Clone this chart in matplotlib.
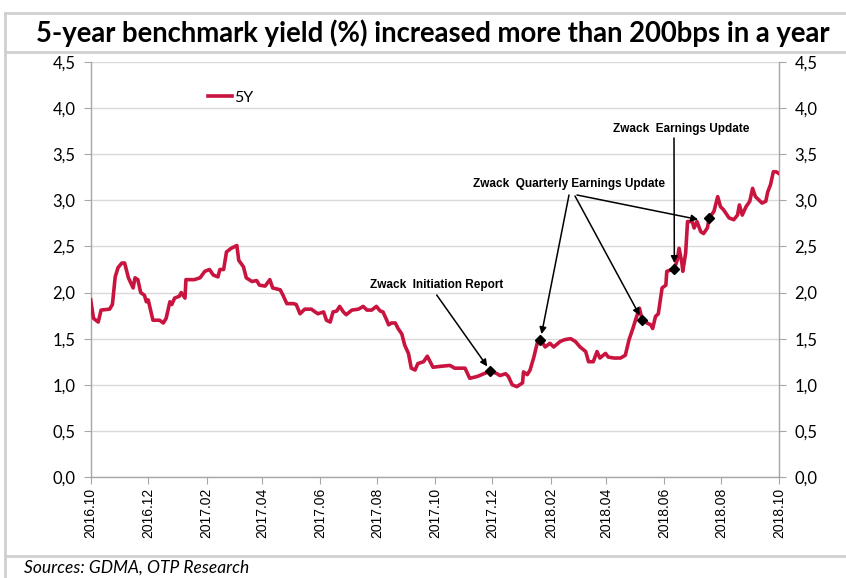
import matplotlib
matplotlib.use("Agg")
import matplotlib.pyplot as plt
import matplotlib.dates as mdates
from matplotlib.lines import Line2D
from matplotlib.ticker import FuncFormatter, MultipleLocator
import pandas as pd

title = "5-year benchmark yield (%) increased more than 200bps in a year"
series_name = "5Y"
source = "Sources: GDMA, OTP Research"

dates = [
    "2016-10-01", "2016-10-04", "2016-10-09", "2016-10-12", "2016-10-21", "2016-10-24", "2016-10-27", "2016-10-30",
    "2016-11-03", "2016-11-06", "2016-11-10", "2016-11-15", "2016-11-17", "2016-11-20", "2016-11-23", "2016-11-27",
    "2016-11-29", "2016-12-01", "2016-12-06", "2016-12-13", "2016-12-17", "2016-12-20", "2016-12-24", "2016-12-26",
    "2016-12-29", "2017-01-03", "2017-01-05", "2017-01-09", "2017-01-10", "2017-01-19", "2017-01-25", "2017-01-30",
    "2017-02-04", "2017-02-08", "2017-02-13", "2017-02-15", "2017-02-19", "2017-02-22", "2017-02-27", "2017-03-05",
    "2017-03-07", "2017-03-12", "2017-03-15", "2017-03-21", "2017-03-26", "2017-03-29", "2017-04-04", "2017-04-09",
    "2017-04-12", "2017-04-20", "2017-04-23", "2017-04-27", "2017-05-04", "2017-05-07", "2017-05-11", "2017-05-16",
    "2017-05-23", "2017-05-27", "2017-05-30", "2017-06-05", "2017-06-08", "2017-06-12", "2017-06-15", "2017-06-19",
    "2017-06-22", "2017-06-26", "2017-06-29", "2017-07-05", "2017-07-12", "2017-07-17", "2017-07-21", "2017-07-26",
    "2017-07-31", "2017-08-04", "2017-08-07", "2017-08-11", "2017-08-13", "2017-08-16", "2017-08-20", "2017-08-23",
    "2017-08-27", "2017-08-30", "2017-09-03", "2017-09-06", "2017-09-10", "2017-09-13", "2017-09-19", "2017-09-23",
    "2017-09-26", "2017-09-29", "2017-10-07", "2017-10-17", "2017-10-22", "2017-11-02", "2017-11-07", "2017-11-15",
    "2017-11-22", "2017-11-29", "2017-12-06", "2017-12-09", "2017-12-15", "2017-12-18", "2017-12-22", "2017-12-27",
    "2018-01-02", "2018-01-03", "2018-01-07", "2018-01-10", "2018-01-14", "2018-01-18", "2018-01-21", "2018-01-26",
    "2018-01-31", "2018-02-04", "2018-02-11", "2018-02-16", "2018-02-22", "2018-02-27", "2018-03-04", "2018-03-10",
    "2018-03-13", "2018-03-18", "2018-03-22", "2018-03-25", "2018-03-31", "2018-04-03", "2018-04-09", "2018-04-16",
    "2018-04-21", "2018-04-25", "2018-04-29", "2018-05-03", "2018-05-06", "2018-05-09", "2018-05-14", "2018-05-18",
    "2018-05-20", "2018-05-23", "2018-05-26", "2018-05-30", "2018-06-03", "2018-06-04", "2018-06-10", "2018-06-12",
    "2018-06-15", "2018-06-17", "2018-06-20", "2018-06-21", "2018-06-24", "2018-06-26", "2018-07-01", "2018-07-03",
    "2018-07-06", "2018-07-10", "2018-07-13", "2018-07-17", "2018-07-19", "2018-07-24", "2018-07-28", "2018-07-31",
    "2018-08-03", "2018-08-09", "2018-08-14", "2018-08-18", "2018-08-20", "2018-08-23", "2018-08-27", "2018-08-31",
    "2018-09-03", "2018-09-06", "2018-09-10", "2018-09-13", "2018-09-17", "2018-09-19", "2018-09-22", "2018-09-25",
    "2018-09-28", "2018-10-01",
]
yield_5y = [
    1.92, 1.72, 1.68, 1.81, 1.82, 1.87, 2.17, 2.27,
    2.32, 2.32, 2.16, 2.05, 2.16, 2.14, 2.00, 1.97,
    1.90, 1.92, 1.70, 1.70, 1.67, 1.72, 1.90, 1.87,
    1.94, 1.96, 2.00, 1.94, 2.14, 2.14, 2.16, 2.23,
    2.25, 2.19, 2.17, 2.25, 2.25, 2.44, 2.48, 2.51,
    2.35, 2.28, 2.16, 2.12, 2.13, 2.08, 2.07, 2.14,
    2.05, 2.03, 1.97, 1.88, 1.88, 1.87, 1.77, 1.82,
    1.82, 1.79, 1.77, 1.79, 1.70, 1.68, 1.79, 1.80,
    1.85, 1.79, 1.76, 1.81, 1.82, 1.85, 1.81, 1.81,
    1.85, 1.80, 1.79, 1.70, 1.65, 1.67, 1.67, 1.61,
    1.55, 1.43, 1.34, 1.18, 1.16, 1.23, 1.25, 1.31,
    1.25, 1.19, 1.20, 1.21, 1.18, 1.18, 1.07, 1.09,
    1.12, 1.15, 1.12, 1.10, 1.12, 1.09, 1.00, 0.98,
    1.02, 1.14, 1.11, 1.16, 1.30, 1.47, 1.49, 1.41,
    1.45, 1.41, 1.47, 1.49, 1.50, 1.47, 1.41, 1.36,
    1.25, 1.25, 1.36, 1.29, 1.34, 1.30, 1.29, 1.29,
    1.32, 1.49, 1.61, 1.74, 1.83, 1.70, 1.67, 1.65,
    1.61, 1.74, 1.77, 2.05, 2.08, 2.23, 2.25, 2.26,
    2.35, 2.48, 2.32, 2.23, 2.43, 2.77, 2.77, 2.70,
    2.77, 2.66, 2.64, 2.70, 2.81, 2.88, 3.04, 2.93,
    2.90, 2.81, 2.79, 2.84, 2.95, 2.84, 2.93, 2.99,
    3.13, 3.04, 3.00, 2.97, 2.99, 3.09, 3.17, 3.31,
    3.31, 3.29,
]

marker_dates = ["2017-11-29", "2018-01-21", "2018-05-09", "2018-06-12", "2018-07-19"]
marker_values = [1.15, 1.49, 1.70, 2.26, 2.81]

label_init = "Zwack  Initiation Report"
label_quarterly = "Zwack  Quarterly Earnings Update"
label_earnings = "Zwack  Earnings Update"

x = pd.to_datetime(dates)
mx = pd.to_datetime(marker_dates)

W, H = 846, 578
fig = plt.figure(figsize=(W / 100, H / 100), dpi=100)

L, R, T, B = 90.7, 779.0, 62.0, 477.0
ax = fig.add_axes([L / W, 1 - B / H, (R - L) / W, (B - T) / H])

line_color = "#C8143F"
ax.plot(x, yield_5y, color=line_color, lw=2.6, label=series_name, zorder=3)
ax.plot(mx, marker_values, linestyle="none", marker="D", ms=5, color="black", zorder=4)

ax.set_ylim(0, 4.5)
ax.set_xlim(pd.Timestamp("2016-10-01"), pd.Timestamp("2018-10-01"))
ax.yaxis.set_major_locator(MultipleLocator(0.5))
ax.yaxis.set_major_formatter(FuncFormatter(lambda v, p: f"{v:.1f}".replace(".", ",")))
ax.xaxis.set_major_locator(mdates.MonthLocator(bymonth=[2, 4, 6, 8, 10, 12]))
ax.xaxis.set_major_formatter(mdates.DateFormatter("%Y.%m"))

ax.grid(axis="y", color="#D9D9D9", lw=1.0)
ax.set_axisbelow(True)
ax.spines["top"].set_visible(False)
for s in ["left", "right", "bottom"]:
    ax.spines[s].set_color("#A6A6A6")
    ax.spines[s].set_linewidth(1.0)

ax.tick_params(axis="y", which="both", left=True, right=True, labelleft=True, labelright=True,
               direction="out", length=5, color="#A6A6A6", labelsize=12, pad=6)
ax.tick_params(axis="x", direction="out", length=5, color="#A6A6A6", labelsize=10, pad=3)
for lab in ax.get_yticklabels():
    lab.set_fontfamily("Lato")
for lab in ax.get_xticklabels():
    lab.set_rotation(90)
    lab.set_fontfamily("Liberation Sans")

ax.legend(loc="upper left", bbox_to_anchor=(0.15, 0.965), frameon=False,
          handlelength=1.5, handletextpad=0.1, prop={"family": "Lato", "size": 11.5})


def px_to_date(px):
    d0 = mdates.date2num(pd.Timestamp("2016-10-01"))
    d1 = mdates.date2num(pd.Timestamp("2018-10-01"))
    return d0 + (px - L) / (R - L) * (d1 - d0)


def py_to_val(py):
    return (B - py) / (B - T) * 4.5


text_kw = dict(ha="center", va="center", fontsize=8.5, fontweight="bold", family="Liberation Sans")
arrow_kw = dict(arrowstyle="-|>", color="black", lw=1.1, mutation_scale=10, shrinkA=0, shrinkB=4)

ax.text(px_to_date(436.5), py_to_val(285), label_init, **text_kw)
ax.text(px_to_date(569), py_to_val(184), label_quarterly, **text_kw)
ax.text(px_to_date(681), py_to_val(129), label_earnings, **text_kw)

arrow_starts = [(436.7, 295), (569, 195), (575, 196), (577, 195), (674, 138)]
arrow_targets = [0, 1, 2, 4, 3]
for (sx, sy), ti in zip(arrow_starts, arrow_targets):
    tx = mdates.date2num(mx[ti])
    ty = marker_values[ti]
    if ti == 4:
        tx -= 6
        ty -= 0.03
    ax.annotate("", xy=(tx, ty), xytext=(px_to_date(sx), py_to_val(sy)),
                arrowprops=arrow_kw)

gray = "#D0D0D0"


def hline(y, x0, x1):
    fig.add_artist(Line2D([x0 / W, x1 / W], [1 - y / H, 1 - y / H], color=gray, lw=2.0))


def vline(xp, y0, y1):
    fig.add_artist(Line2D([xp / W, xp / W], [1 - y0 / H, 1 - y1 / H], color=gray, lw=2.0))


hline(13, 5, 846)
hline(52, 5, 846)
hline(556, 5, 846)
vline(5, 13, 578)

fig.text(433 / W, 1 - 33 / H, title, ha="center", va="center", fontsize=19.8,
         fontweight="bold", family="Lato")
fig.text(24 / W, 1 - 568 / H, source, ha="left", va="center", fontsize=12.5,
         style="italic", family="Lato")

fig.savefig("out.png", dpi=100)
